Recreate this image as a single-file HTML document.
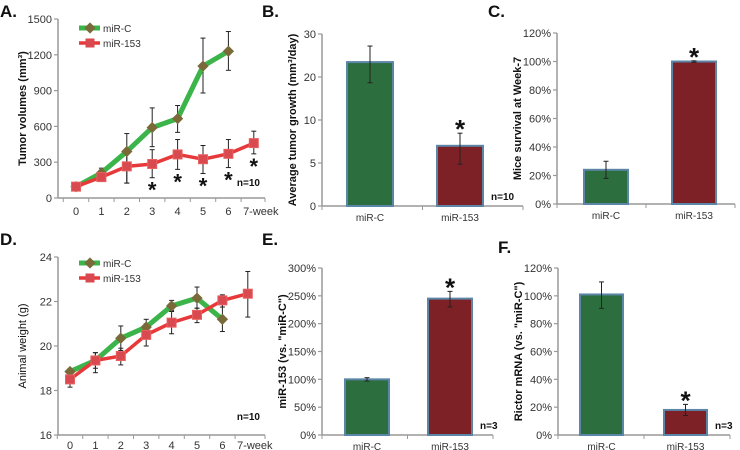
<!DOCTYPE html>
<html><head><meta charset="utf-8"><style>
html,body{margin:0;padding:0;background:#fff;}
svg{display:block;font-family:"Liberation Sans",Arial,sans-serif;}
</style></head><body>
<svg id="fig" width="740" height="450" viewBox="0 0 740 450"></svg>
<script>
// Panel A data
const weeks = [0,1,2,3,4,5,6,7];
const weekLabels = ["0","1","2","3","4","5","6","7-week"];
const aTicks = [0,300,600,900,1200,1500];
const aCtrl = [95,210,390,590,665,1105,1230];
const aCtrlLo = [95,190,125,430,550,880,1070];
const aCtrlHi = [95,250,540,755,775,1340,1395];
const aMir = [95,175,265,285,365,325,370,460];
const aMirLo = [95,160,125,170,240,205,255,370];
const aMirHi = [95,190,400,405,490,440,490,560];
const aStars = [3,4,5,6,7];
// Panel D data
const dTicks = [16,18,20,22,24];
const dCtrl = [18.85,19.35,20.35,20.85,21.8,22.15,21.2];
const dCtrlLo = [18.75,19.0,19.8,20.6,21.55,21.7,20.65];
const dCtrlHi = [18.95,19.7,20.9,21.2,22.05,22.65,22.25];
const dMir = [18.5,19.35,19.55,20.5,21.05,21.4,22.05,22.35];
const dMirLo = [18.15,18.8,19.15,20.0,20.55,21.05,21.75,21.3];
const dMirHi = [18.85,19.7,19.9,21.0,21.6,21.7,22.3,23.35];
// Bar panels
const groups = ["miR-C","miR-153"];
// panel B axis is evenly spaced with labels 0,5,10,20,30 (tick positions at 0,7.5,15,22.5,30 in axis units)
const bVals = [25.1,10.5], bLo=[21.5,7.3], bHi=[27.9,12.7], bTicks=[0,7.5,15,22.5,30], bTickLabels=["0","5","10","20","30"];
const cVals = [24,100], cLo=[18,99.5], cHi=[30,100.5], cTicks=[0,20,40,60,80,100,120];
const eVals = [100,245], eLo=[97,230], eHi=[103,258], eTicks=[0,50,100,150,200,250,300];
const fVals = [101,18], fLo=[91,14], fHi=[110,22], fTicks=[0,20,40,60,80,100,120];

const NS="http://www.w3.org/2000/svg";
const svg=document.getElementById('fig');
function el(tag,attrs,parent,txt){const e=document.createElementNS(NS,tag);for(const k in attrs)e.setAttribute(k,attrs[k]);if(txt!==undefined)e.textContent=txt;(parent||svg).appendChild(e);return e;}
function grp(name){const g=el('g',{});


return g;}

function errbar(g,x,y1,y2){el('line',{x1:x,x2:x,y1:y1,y2:y2,stroke:'#222','stroke-width':1},g);
el('line',{x1:x-2.5,x2:x+2.5,y1:y1,y2:y1,stroke:'#222','stroke-width':1},g);
el('line',{x1:x-2.5,x2:x+2.5,y1:y2,y2:y2,stroke:'#222','stroke-width':1},g);}

function letter(t,x,y){const e=el('text',{x:x,y:y,'font-size':17,'font-weight':'bold',fill:'#111'},svg,t);

}

function yAxis(g,x0,xEnd,yFn,ticks,fmt,ylo,yhi){
 el('line',{x1:x0,x2:x0,y1:yFn(yhi),y2:yFn(ylo),stroke:'#999','stroke-width':1.5},g);
 el('line',{x1:x0,x2:xEnd,y1:yFn(ylo),y2:yFn(ylo),stroke:'#999','stroke-width':1.5},g);
 ticks.forEach((t,i)=>{el('line',{x1:x0-4,x2:x0,y1:yFn(t),y2:yFn(t),stroke:'#999','stroke-width':1.2},g);
  el('text',{x:x0-6,y:yFn(t)+4,'text-anchor':'end','font-size':11,fill:'#333'},g,fmt(t,i));});
}
function ylabel(g,x,y,txt,bold){const e=el('text',{transform:`translate(${x},${y}) rotate(-90)`,'text-anchor':'middle','font-size':11,'font-weight':bold?'bold':'normal',fill:'#111'},g,txt);return e;}

function linePanel(name,x0,xEnd,xs,yBase,yTop,vlo,vhi,ticks,ctrl,cLo,cHi,mir,mLo,mHi,lab,stars,starFn,legY,lblOff){
 const g=grp(name);
 const xf=i=>xs+i*25.4; const yf=v=>yBase-(v-vlo)/(vhi-vlo)*(yBase-yTop);
 yAxis(g,x0,xEnd,yf,ticks,t=>String(t),vlo,vhi);
 weeks.forEach((w,i)=>{el('line',{x1:xf(i)-12.7,x2:xf(i)-12.7,y1:yBase,y2:yBase+4,stroke:'#999'},g);
  const t=el('text',{x:xf(i)+(i==7?7:0),y:yBase+lblOff,'text-anchor':'middle','font-size':11,fill:'#333'},g,weekLabels[i]);
  
  });
 el('line',{x1:xEnd,x2:xEnd,y1:yBase,y2:yBase+4,stroke:'#999'},g);
 ylabel(g,x0-32,(yBase+yTop)/2,lab,name==='panel-a');
 ctrl.forEach((v,i)=>errbar(g,xf(i),yf(cLo[i]),yf(cHi[i])));
 mir.forEach((v,i)=>errbar(g,xf(i),yf(mLo[i]),yf(mHi[i])));
 const pc=ctrl.map((v,i)=>xf(i)+','+yf(v)).join(' ');
 const pm=mir.map((v,i)=>xf(i)+','+yf(v)).join(' ');
 const lc=el('polyline',{points:pc,fill:'none',stroke:'#3bb44a','stroke-width':5,'stroke-linejoin':'round'},g);
 
 
 ctrl.forEach((v,i)=>{const d=el('rect',{x:xf(i)-4,y:yf(v)-4,width:8,height:8,fill:'#7a6a3a',transform:`rotate(45 ${xf(i)} ${yf(v)})`},g);
  
  });
 const lm=el('polyline',{points:pm,fill:'none',stroke:'#e8393a','stroke-width':3.5,'stroke-linejoin':'round'},g);
 
 
 mir.forEach((v,i)=>{const s=el('rect',{x:xf(i)-4.5,y:yf(v)-4.5,width:9,height:9,fill:'#d84a4f',stroke:'#e86060'},g);
  
  });
 stars.forEach(i=>{el('text',{x:xf(i),y:starFn(i,yf),'text-anchor':'middle','font-size':22,'font-weight':'bold',fill:'#111'},g,'*');});
 // legend
 const lg=grp('legend');g.appendChild(lg);
 el('line',{x1:79,x2:100,y1:legY,y2:legY,stroke:'#3bb44a','stroke-width':5},lg);
 el('rect',{x:86,y:legY-4,width:8,height:8,fill:'#7a6a3a',transform:`rotate(45 90 ${legY})`},lg);
 el('text',{x:103,y:legY+4,'font-size':10,fill:'#333'},lg,'miR-C');
 el('line',{x1:79,x2:100,y1:legY+15,y2:legY+15,stroke:'#e8393a','stroke-width':3.5},lg);
 el('rect',{x:85.5,y:legY+10.5,width:9,height:9,fill:'#d84a4f'},lg);
 el('text',{x:103,y:legY+19,'font-size':10,fill:'#333'},lg,'miR-153');
 el('text',{x:xEnd-5,y:yBase-(name==='panel-a'?12:15),'text-anchor':'end','font-size':10,'font-weight':'bold',fill:'#111'},g,'n=10');
}

function barPanel(name,x0,xEnd,yBase,yTop,vmax,ticks,fmt,vals,lo,hi,bx,bw,lab,star,nTxt){
 const g=grp(name);
 const yf=v=>yBase-v/vmax*(yBase-yTop);
 yAxis(g,x0,xEnd,yf,ticks,fmt,0,vmax);
 const mid=(x0+xEnd)/2;
 [x0,mid,xEnd].forEach(x=>el('line',{x1:x,x2:x,y1:yBase,y2:yBase+4,stroke:'#999'},g));
 const cols=['#2d6e3e','#7e2127'];
 vals.forEach((v,i)=>{const r=el('rect',{x:bx[i],y:yf(v),width:bw,height:yBase-yf(v),fill:cols[i],stroke:'#5b86a8','stroke-width':2},g);
  
  
  errbar(g,bx[i]+bw/2,yf(lo[i]),yf(hi[i]));
  el('text',{x:bx[i]+bw/2,y:yBase+15,'text-anchor':'middle','font-size':10,fill:'#333'},g,groups[i]);});
 el('text',{x:bx[1]+bw/2,y:yf(hi[1])+5,'text-anchor':'middle','font-size':26,'font-weight':'bold',fill:'#111'},g,'*');
 ylabel(g,x0-(fmt(ticks[ticks.length-1],ticks.length-1).length>3?36:26),(yBase+yTop)/2,lab,true);
 if(nTxt) el('text',{x:bx[1]+bw+8,y:yBase-6,'font-size':10,'font-weight':'bold',fill:'#111'},g,nTxt);
}

letter('A.',0,17);letter('B.',262,17);letter('C.',488,17);
letter('D.',0,245);letter('E.',262,245);letter('F.',498,253);

linePanel('panel-a',58,265,76,198,19,0,1500,aTicks,aCtrl,aCtrlLo,aCtrlHi,aMir,aMirLo,aMirHi,'Tumor volumes (mm³)',aStars,(i,yf)=>yf(aMirLo[i])+20,28,17);
linePanel('panel-d',58,265,70,435,257,16,24,dTicks,dCtrl,dCtrlLo,dCtrlHi,dMir,dMirLo,dMirHi,'Animal weight (g)',[],()=>0,263,14);

barPanel('panel-b',322,523,206,34,30,bTicks,(t,i)=>bTickLabels[i],bVals,bLo,bHi,[347,437],46,'Average tumor growth (mm³/day)',true,'n=10');
barPanel('panel-c',557,735,204,33,120,cTicks,t=>t+'%',cVals,cLo,cHi,[584,672],44,'Mice survival at Week-7',true,'');
barPanel('panel-e',322,493,435,268,300,eTicks,t=>t+'%',eVals,eLo,eHi,[345,428],44,'miR-153 (vs. "miR-C")',true,'n=3');
barPanel('panel-f',558,730,435,268,120,fTicks,t=>t+'%',fVals,fLo,fHi,[580,664],43,'Rictor mRNA (vs. "miR-C")',true,'n=3');
</script>
</body></html>
